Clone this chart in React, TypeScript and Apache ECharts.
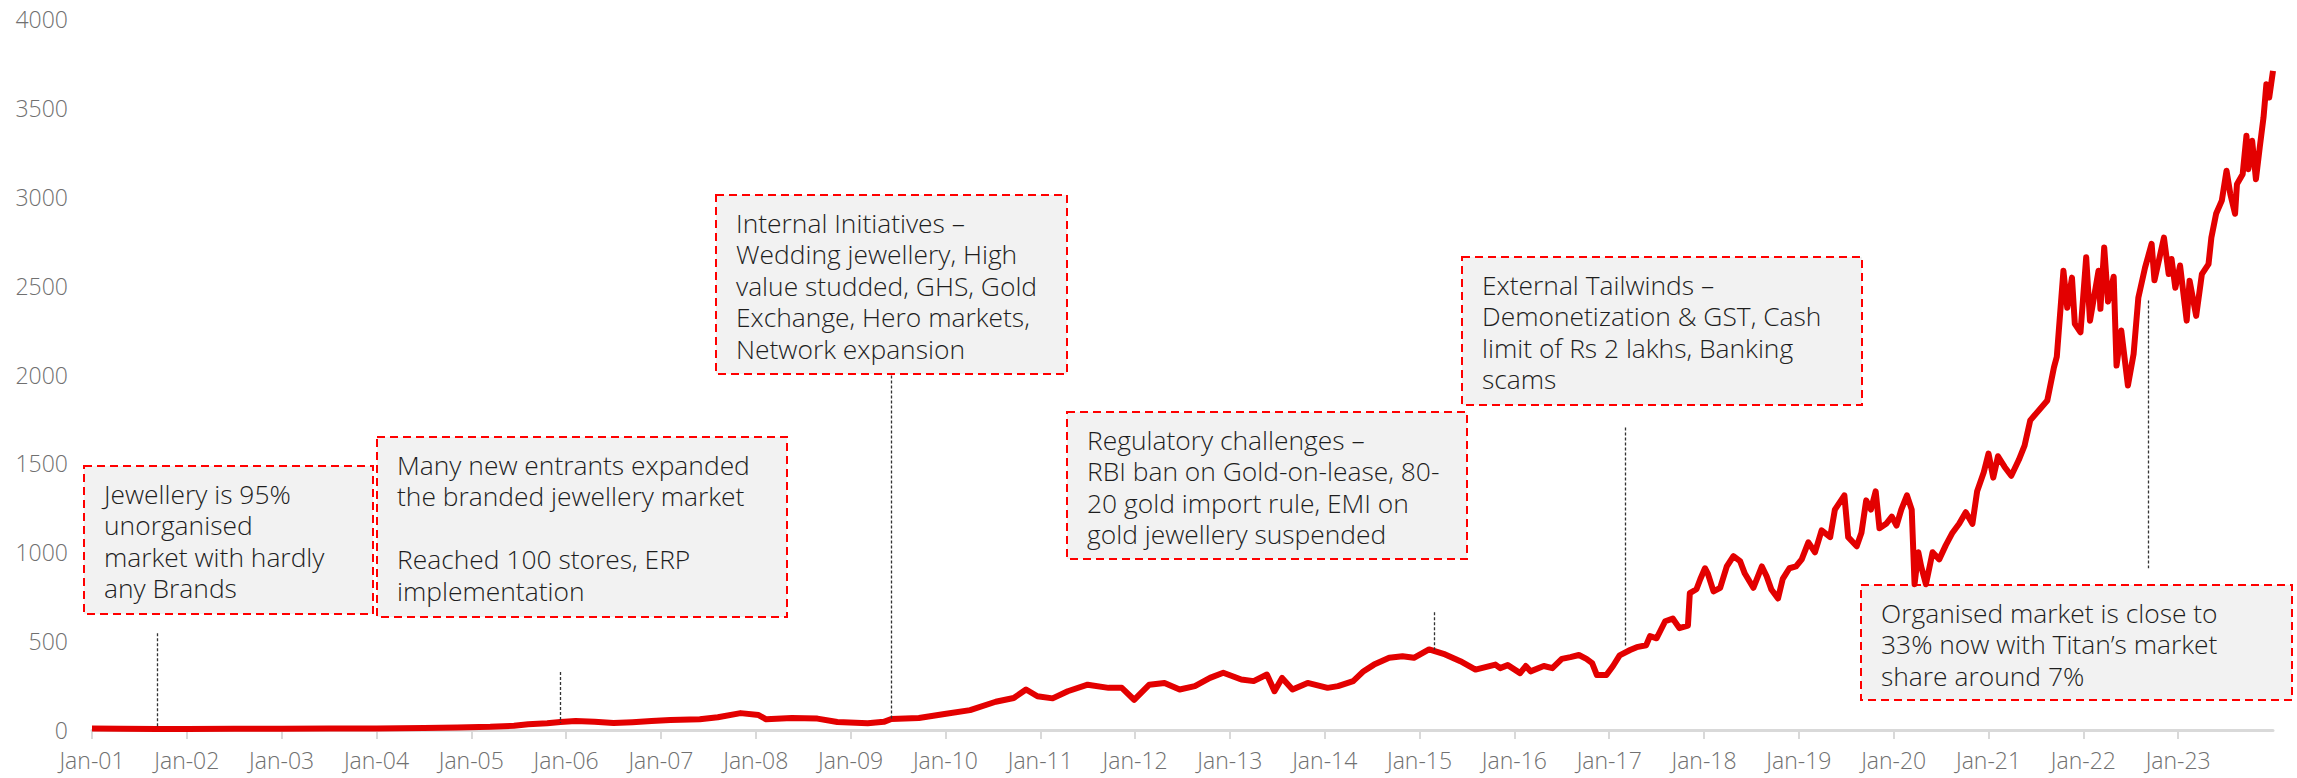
import React, { useEffect, useRef } from "react";
import * as echarts from "echarts";

// x positions as decimal years
const years: number[] = [
  2001.0, 2001.3, 2001.69, 2002.0, 2002.5, 2003.0, 2003.5, 2004.0, 2004.5, 2004.85,
  2005.2, 2005.45, 2005.6, 2005.8, 2005.94, 2006.1, 2006.3, 2006.5, 2006.7, 2006.9,
  2007.1, 2007.41, 2007.6, 2007.84, 2008.03, 2008.11, 2008.38, 2008.65, 2008.86, 2009.18,
  2009.35, 2009.43, 2009.72, 2009.99, 2010.26, 2010.53, 2010.72, 2010.85, 2010.97, 2011.13,
  2011.29, 2011.5, 2011.72, 2011.86, 2011.99, 2012.15, 2012.31, 2012.47, 2012.63, 2012.79,
  2012.93, 2013.12, 2013.25, 2013.39, 2013.47, 2013.55, 2013.66, 2013.82, 2014.03, 2014.14,
  2014.3, 2014.41, 2014.52, 2014.68, 2014.82, 2014.94, 2015.1, 2015.27, 2015.43, 2015.59,
  2015.8, 2015.85, 2015.93, 2016.06, 2016.12, 2016.17, 2016.31, 2016.4, 2016.5, 2016.59,
  2016.68, 2016.76, 2016.82, 2016.87, 2016.97, 2017.04, 2017.11, 2017.22, 2017.29, 2017.39,
  2017.43, 2017.5, 2017.59, 2017.67, 2017.74, 2017.83, 2017.85, 2017.92, 2017.96, 2018.01,
  2018.04, 2018.1, 2018.17, 2018.24, 2018.31, 2018.38, 2018.43, 2018.52, 2018.61, 2018.66,
  2018.71, 2018.78, 2018.83, 2018.9, 2018.97, 2019.03, 2019.1, 2019.17, 2019.24, 2019.33,
  2019.38, 2019.48, 2019.52, 2019.61, 2019.66, 2019.71, 2019.76, 2019.81, 2019.85, 2019.92,
  2019.98, 2020.03, 2020.08, 2020.14, 2020.19, 2020.22, 2020.26, 2020.29, 2020.34, 2020.41,
  2020.48, 2020.55, 2020.62, 2020.69, 2020.76, 2020.83, 2020.88, 2020.95, 2021.0, 2021.05,
  2021.1, 2021.17, 2021.24, 2021.32, 2021.38, 2021.44, 2021.62, 2021.69, 2021.72, 2021.79,
  2021.83, 2021.88, 2021.91, 2021.97, 2022.03, 2022.07, 2022.16, 2022.18, 2022.22, 2022.26,
  2022.32, 2022.35, 2022.4, 2022.47, 2022.53, 2022.58, 2022.65, 2022.72, 2022.75, 2022.85,
  2022.9, 2022.93, 2022.97, 2023.02, 2023.09, 2023.12, 2023.19, 2023.25, 2023.32, 2023.35,
  2023.4, 2023.46, 2023.51, 2023.55, 2023.6, 2023.62, 2023.68, 2023.72, 2023.74, 2023.78,
  2023.82, 2023.86, 2023.9, 2023.93, 2023.96, 2024.0,
];

const prices: number[] = [
  8, 7, 6, 6, 7, 7, 8, 9, 11, 14,
  18, 24, 32, 38, 45, 50, 47, 40, 44, 50,
  56, 60, 72, 95, 84, 60, 67, 64, 45, 38,
  46, 62, 68, 90, 112, 159, 180, 228, 190, 178,
  218, 255, 237, 237, 170, 255, 265, 228, 247, 293,
  322, 284, 275, 312, 218, 293, 228, 265, 237, 247,
  275, 331, 368, 406, 415, 406, 453, 425, 387, 340,
  368, 348, 365, 320, 360, 330, 360, 348, 400, 410,
  422, 400, 376, 309, 309, 360, 420, 450, 466, 477,
  528, 516, 612, 627, 573, 587, 770, 792, 848, 910,
  880, 780, 800, 920, 978, 950, 880, 800, 920, 865,
  790, 740, 850, 910, 920, 960, 1056, 1000, 1123, 1085,
  1240, 1320, 1085, 1034, 1110, 1292, 1240, 1343, 1135, 1160,
  1200, 1150, 1240, 1320, 1240, 820, 1000, 920, 820, 1000,
  960, 1040, 1110, 1160, 1225, 1160, 1343, 1450, 1555, 1420,
  1540, 1480, 1430, 1520, 1600, 1742, 1854, 2040, 2100, 2584,
  2376, 2545, 2285, 2237, 2660, 2303, 2584, 2370, 2715, 2410,
  2550, 2050, 2247, 1938, 2115, 2433, 2600, 2735, 2530, 2770,
  2565, 2650, 2488, 2613, 2303, 2528, 2330, 2565, 2621, 2770,
  2904, 2978, 3146, 3015, 2904, 3071, 3127, 3343, 3155, 3315,
  3099, 3277, 3446, 3633, 3558, 3708,
];

const yTicks: number[] = [0, 500, 1000, 1500, 2000, 2500, 3000, 3500, 4000];
const xStartYear = 2001;
const xEndYear = 2024;

// annotation leader lines: year, top value, bottom value
const leaderYears: number[] = [2001.69, 2005.94, 2009.43, 2015.15, 2017.17, 2022.68];
const leaderTops: number[] = [545, 326, 1994, 663, 1702, 2416];
const leaderBottoms: number[] = [20, 40, 62, 450, 466, 910];

const notes: string[] = [
  "Jewellery is 95%\nunorganised\nmarket with hardly\nany Brands",
  "Many new entrants expanded\nthe branded jewellery market\n\nReached 100 stores, ERP\nimplementation",
  "Internal Initiatives –\nWedding jewellery, High\nvalue studded, GHS, Gold\nExchange, Hero markets,\nNetwork expansion",
  "Regulatory challenges –\nRBI ban on Gold-on-lease, 80-\n20 gold import rule, EMI on\ngold jewellery suspended",
  "External Tailwinds –\nDemonetization & GST, Cash\nlimit of Rs 2 lakhs, Banking\nscams",
  "Organised market is close to\n33% now with Titan’s market\nshare around 7%",
];

// box layout (pixels): x, y, w, h
const noteBoxes: number[][] = [
  [84, 466, 289, 148],
  [377, 437, 410, 180],
  [716, 195, 351, 179],
  [1067, 412, 400, 147],
  [1462, 257, 400, 148],
  [1861, 585, 431, 115],
];

export default function App() {
  const ref = useRef<HTMLDivElement>(null);
  useEffect(() => {
    if (!ref.current) return;
    const chart = echarts.init(ref.current, undefined, { renderer: "svg" });
    const font = '"Open Sans", "Noto Sans", sans-serif';
    const graphics: any[] = [];
    noteBoxes.forEach((b, i) => {
      graphics.push({
        type: "rect",
        z: 1,
        shape: { x: b[0], y: b[1], width: b[2], height: b[3] },
        style: { fill: "#f2f2f2", stroke: "#ff0000", lineWidth: 2, lineDash: [8, 5] },
      });
      graphics.push({
        type: "text",
        z: 2,
        x: b[0] + 20,
        y: b[1] + 12,
        style: {
          text: notes[i],
          fill: "#1e1e1e",
          fontSize: 26.4,
          fontWeight: 300,
          fontFamily: font,
          lineHeight: 31.5,
          align: "left",
          verticalAlign: "top",
        },
      });
    });

    const data = years.map((y, i) => [y, prices[i]]);
    const leaders = leaderYears.map((x, i) => [
      { coord: [x, leaderTops[i]] },
      { coord: [x, leaderBottoms[i]] },
    ]);

    chart.setOption({
      animation: false,
      grid: { left: 92, right: 24, top: 19, bottom: 48, containLabel: false },
      xAxis: {
        type: "value",
        min: xStartYear,
        max: xEndYear,
        interval: 1,
        splitLine: { show: false },
        axisLine: { show: true, lineStyle: { color: "#d9d9d9", width: 3 } },
        axisTick: { show: true, length: 9, lineStyle: { color: "#d9d9d9", width: 2 } },
        axisLabel: {
          show: true,
          margin: 18,
          color: "#707070",
          fontSize: 23,
          fontWeight: 300,
          fontFamily: font,
          showMaxLabel: false,
          formatter: (v: number) =>
            v >= xEndYear ? "" : "Jan-" + String(Math.round(v) % 100).padStart(2, "0"),
        },
      },
      yAxis: {
        type: "value",
        min: yTicks[0],
        max: yTicks[yTicks.length - 1],
        interval: 500,
        splitLine: { show: false },
        axisLine: { show: false },
        axisTick: { show: false },
        axisLabel: {
          color: "#707070",
          fontSize: 23,
          fontWeight: 300,
          fontFamily: font,
          margin: 24,
          formatter: (v: number) => String(v),
        },
      },
      graphic: graphics,
      series: [
        {
          type: "line",
          data,
          showSymbol: false,
          symbol: "none",
          z: 3,
          lineStyle: { color: "#e30000", width: 6, join: "round" },
          markLine: {
            silent: true,
            symbol: "none",
            label: { show: false },
            lineStyle: { color: "#333333", width: 1.3, type: [3, 2] },
            data: leaders,
          },
        },
      ],
    });
    return () => chart.dispose();
  }, []);
  return (
    <div
      ref={ref}
      style={{ position: "absolute", left: 0, top: 0, width: 2297, height: 778 }}
    />
  );
}
